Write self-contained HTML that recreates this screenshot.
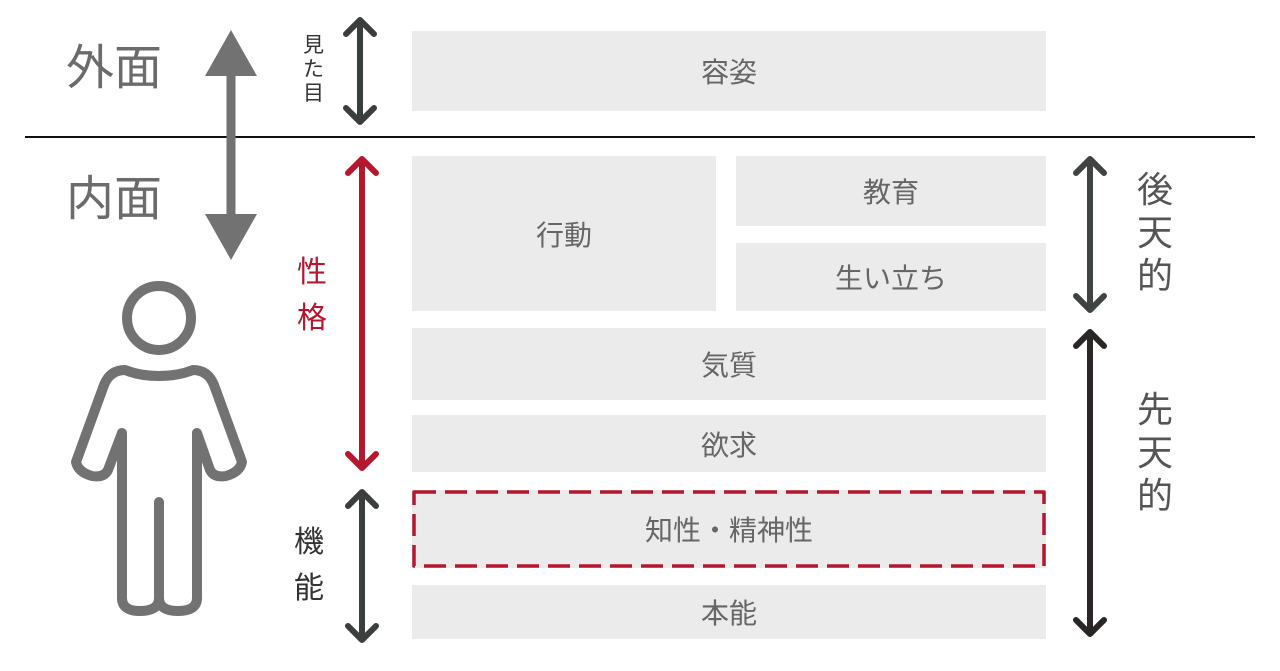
<!DOCTYPE html>
<html><head><meta charset="utf-8"><style>
body{margin:0;width:1280px;height:671px;background:#fff;position:relative;overflow:hidden;font-family:"Liberation Sans","Noto Sans CJK JP",sans-serif}
.b{position:absolute;background:#ebebeb;color:#666;font-size:28px;display:flex;align-items:center;justify-content:center}
.t{position:absolute;line-height:1}
</style></head><body>
<div class="b" style="left:412px;top:31px;width:634px;height:80px">容姿</div>
<div class="b" style="left:412px;top:156px;width:304px;height:155px">行動</div>
<div class="b" style="left:736px;top:156px;width:310px;height:70px">教育</div>
<div class="b" style="left:736px;top:243px;width:310px;height:68px">生い立ち</div>
<div class="b" style="left:412px;top:328px;width:634px;height:72px">気質</div>
<div class="b" style="left:412px;top:415px;width:634px;height:57px">欲求</div>
<div class="b" style="left:412px;top:490px;width:634px;height:78px">知性・精神性</div>
<div class="b" style="left:412px;top:585px;width:634px;height:54px">本能</div>
<div style="position:absolute;left:25px;top:136px;width:1230px;height:2px;background:#111"></div>
<div class="t" style="left:66px;top:45px;font-size:48px;color:#6b6b6b">外面</div>
<div class="t" style="left:66px;top:176px;font-size:48px;color:#6b6b6b">内面</div>
<div class="t" style="left:303px;top:34px;width:22px;font-size:21px;color:#333;line-height:24px">見た目</div>
<div class="t" style="left:297px;top:250px;width:32px;font-size:30px;color:#b5172f;line-height:46px">性格</div>
<div class="t" style="left:294px;top:520px;width:32px;font-size:30px;color:#333;line-height:46px">機能</div>
<div class="t" style="left:1137px;top:168px;width:38px;font-size:36px;color:#555;line-height:43px">後天的</div>
<div class="t" style="left:1137px;top:388px;width:38px;font-size:36px;color:#555;line-height:43px">先天的</div>
<svg width="1280" height="671" style="position:absolute;left:0;top:0" fill="none" stroke-linecap="round" stroke-linejoin="round">
<rect x="414" y="492" width="630" height="74" stroke="#b5172f" stroke-width="3.5" stroke-dasharray="22 9" stroke-linecap="butt"/>
<line x1="231" y1="70" x2="231" y2="220" stroke="#727272" stroke-width="9" stroke-linecap="butt"/>
<polygon points="231,30 205,76 257,76" fill="#727272"/>
<polygon points="231,260 205,214 257,214" fill="#727272"/>
<g stroke="#3a3f3d" stroke-width="6">
<path d="M360 20V122M346 34L360 20L374 34M346 108L360 122L374 108"/>
<path d="M362 492V640M348 506L362 492L376 506M348 626L362 640L376 626"/>
</g>
<path d="M362 159V468M348 173L362 159L376 173M348 454L362 468L376 454" stroke="#b5172f" stroke-width="6"/>
<path d="M1090 159V310M1076 173L1090 159L1104 173M1076 296L1090 310L1104 296" stroke="#3f4442" stroke-width="6"/>
<path d="M1090 332V634M1076 346L1090 332L1104 346M1076 620L1090 634L1104 620" stroke="#2b2626" stroke-width="6"/>
<circle cx="159" cy="318" r="32" stroke="#727272" stroke-width="10"/>
<path d="M159 502 V598 Q159 611 140 611 Q122 611 122 598 V433 L108 470 Q104 478 92 476 Q78 472 76 462 L104 385 Q110 370 125 370 Q140 376 159 376 Q178 376 193 370 Q208 370 214 385 L242 462 Q240 472 226 476 Q214 478 210 470 L197 433 V598 Q197 611 178 611 Q159 611 159 598" stroke="#727272" stroke-width="10"/>
</svg>
</body></html>
